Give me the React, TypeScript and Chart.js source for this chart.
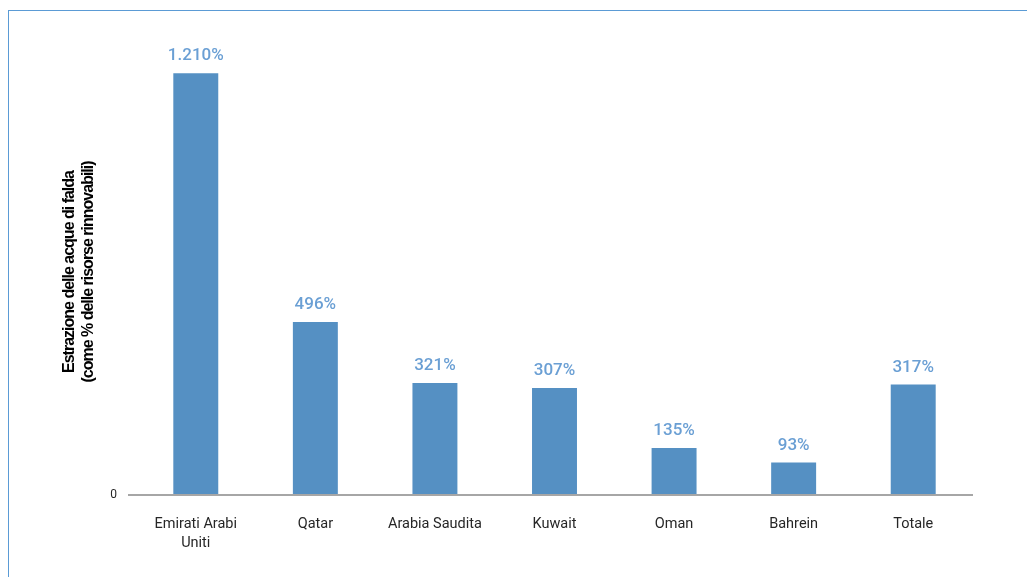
import React, { useEffect, useRef } from "react";
import { Chart, registerables } from "chart.js";

Chart.register(...registerables);

const categories: (string | string[])[] = [
  ["Emirati Arabi", "Uniti"],
  "Qatar",
  "Arabia Saudita",
  "Kuwait",
  "Oman",
  "Bahrein",
  "Totale",
];
const values: number[] = [1210, 496, 321, 307, 135, 93, 317];
const yTicks: number[] = [0];
const yTitle: string[] = [
  "Estrazione delle acque di falda",
  "(come % delle risorse rinnovabili)",
];

const BAR_COLOR = "#5590c3";
const LABEL_COLOR = "#6a9fd4";

function fmt(v: number): string {
  const s = String(Math.round(v));
  return s.replace(/\B(?=(\d{3})+(?!\d))/g, ".") + "%";
}

const valueLabels = {
  id: "valueLabels",
  afterDatasetsDraw(chart: any) {
    const ctx = chart.ctx;
    const meta = chart.getDatasetMeta(0);
    ctx.save();
    ctx.font = "500 17px Roboto";
    ctx.fillStyle = LABEL_COLOR;
    ctx.textAlign = "center";
    ctx.textBaseline = "alphabetic";
    meta.data.forEach((el: any, i: number) => {
      ctx.fillText(fmt(values[i]), el.x, el.y - 13);
    });
    ctx.restore();
  },
};

const sideTitle = {
  id: "sideTitle",
  afterDraw(chart: any) {
    const ctx = chart.ctx;
    ctx.save();
    ctx.font = "bold 16px 'Liberation Sans', Arial, sans-serif";
    try {
      (ctx as any).letterSpacing = "-1px";
    } catch (e) {}
    ctx.fillStyle = "#000000";
    ctx.textAlign = "center";
    ctx.textBaseline = "middle";
    const xs = [70, 89];
    yTitle.forEach((t, i) => {
      ctx.save();
      ctx.translate(xs[i], 272);
      ctx.rotate(-Math.PI / 2);
      ctx.fillText(t, 0, 0);
      ctx.restore();
    });
    ctx.restore();
  },
};

export default function App() {
  const ref = useRef<HTMLCanvasElement | null>(null);

  useEffect(() => {
    if (!ref.current) return;
    const chart = new Chart(ref.current, {
      type: "bar",
      data: {
        labels: categories,
        datasets: [
          {
            data: values,
            backgroundColor: BAR_COLOR,
            categoryPercentage: 1,
            barPercentage: 0.376,
          },
        ],
      },
      options: {
        responsive: false,
        animation: false,
        layout: { padding: { top: 7, right: 54, left: 0, bottom: 0 } },
        plugins: {
          legend: { display: false },
          tooltip: { enabled: false },
          title: { display: false },
        },
        scales: {
          x: {
            grid: { display: false },
            border: { display: false },
            ticks: {
              font: { family: "Roboto", size: 14.5, lineHeight: 1.3 },
              color: "#262626",
              padding: 12,
              maxRotation: 0,
              autoSkip: false,
            },
            afterFit: (s: any) => {
              s.height = 82;
              s.paddingLeft = 0;
              s.paddingRight = 0;
            },
          },
          y: {
            min: 0,
            max: 1400,
            afterBuildTicks: (s: any) => {
              s.ticks = yTicks.map((v) => ({ value: v }));
            },
            grid: {
              color: "#a6a6a6",
              lineWidth: 2,
              tickLength: 8,
              drawTicks: true,
              tickColor: "#a6a6a6",
            },
            border: { display: false },
            ticks: {
              font: { family: "Roboto", size: 12 },
              color: "#262626",
              padding: 11,
            },
            afterFit: (s: any) => {
              s.width = 136;
              s.paddingTop = 0;
              s.paddingBottom = 0;
            },
          },
        },
      },
      plugins: [valueLabels, sideTitle],
    });
    return () => chart.destroy();
  }, []);

  return (
    <div
      style={{
        position: "fixed",
        left: 0,
        top: 0,
        width: 1027,
        height: 577,
        overflow: "hidden",
        background: "#ffffff",
      }}
    >
      <div
        style={{
          position: "absolute",
          left: 8,
          top: 10,
          width: 1100,
          height: 700,
          border: "1px solid #5b9bd5",
          boxSizing: "border-box",
        }}
      />
      <canvas
        ref={ref}
        width={1027}
        height={577}
        style={{ position: "absolute", left: 0, top: 0, width: 1027, height: 577 }}
      />
    </div>
  );
}
